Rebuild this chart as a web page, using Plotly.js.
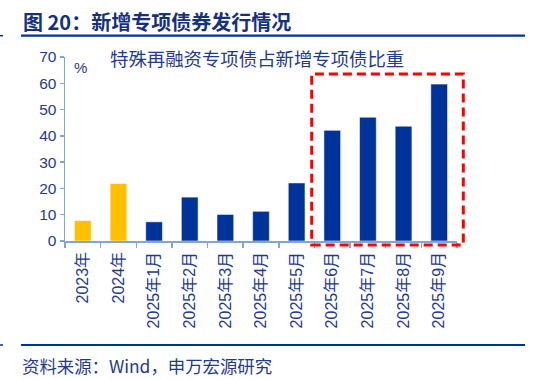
<!DOCTYPE html>
<html>
<head>
<meta charset="utf-8">
<script src="https://cdn.plot.ly/plotly-3.0.1.min.js"></script>
<style>html,body{margin:0;padding:0;background:#fff;}#chart{width:541px;height:379px;}</style>
</head>
<body>
<div id="chart"></div>
<script>
const categories = ["2023年","2024年","2025年1月","2025年2月","2025年3月","2025年4月","2025年5月","2025年6月","2025年7月","2025年8月","2025年9月"];
const shareValues = [7.8, 21.9, 7.3, 16.7, 10.1, 11.3, 22.1, 42.1, 47.1, 43.7, 59.7];
const barColors = ["#FFC000","#FFC000","#003399","#003399","#003399","#003399","#003399","#003399","#003399","#003399","#003399"];
const yTicks = [0,10,20,30,40,50,60,70];

const FONT = "'Liberation Sans', Arial, 'Noto Sans CJK SC', sans-serif";
const CJK = "'Noto Sans CJK SC', 'Liberation Sans', sans-serif";
const W = 541, H = 379, L = 65, R = 84, T = 57, B = 138;
const pw = W - L - R, ph = H - T - B;
const px = v => (v - L) / pw;
const py = v => (H - B - v) / ph;

const trace = {
  type: "bar",
  x: categories,
  y: shareValues,
  marker: {color: barColors, line: {color: "rgba(255,255,255,0.55)", width: 1}},
  hoverinfo: "x+y"
};

const layout = {
  width: W, height: H,
  margin: {l: L, r: R, t: T, b: B, pad: 0},
  paper_bgcolor: "#fff", plot_bgcolor: "#fff",
  showlegend: false,
  bargap: 0.53,
  font: {family: FONT, color: "#1F3A8F"},
  xaxis: {
    type: "category",
    range: [-0.5, categories.length - 0.5],
    showline: true, linecolor: "#7FA6D6", linewidth: 1.5,
    ticks: "outside", tickson: "boundaries", ticklen: 5, tickcolor: "#7FA6D6", tickwidth: 1.5,
    tickangle: -90, ticklabelstandoff: 3, tickfont: {size: 16, family: FONT, color: "#1F3A8F"},
    showgrid: false, zeroline: false, fixedrange: true
  },
  yaxis: {
    range: [0, 70], tickvals: yTicks,
    showline: true, linecolor: "#7FA6D6", linewidth: 1.5,
    ticks: "outside", ticklen: 4, tickcolor: "#7FA6D6", tickwidth: 1.5,
    tickfont: {size: 15.5, family: FONT, color: "#1F3A8F"},
    showgrid: false, zeroline: false, fixedrange: true
  },
  shapes: [
    {type: "line", xref: "paper", yref: "paper", x0: px(21), x1: px(525), y0: py(35.7), y1: py(35.7), line: {color: "#003399", width: 2.2}},
    {type: "line", xref: "paper", yref: "paper", x0: px(21), x1: px(525), y0: py(345), y1: py(345), line: {color: "#003399", width: 2.2}},
    {type: "line", xref: "paper", yref: "paper", x0: px(0), x1: px(3), y0: py(35.7), y1: py(35.7), line: {color: "#003399", width: 1.5}},
    {type: "line", xref: "paper", yref: "paper", x0: px(0), x1: px(3), y0: py(345), y1: py(345), line: {color: "#003399", width: 1.5}},
    {type: "rect", xref: "paper", yref: "paper", x0: px(311.7), x1: px(463.3), y0: py(245), y1: py(74), line: {color: "#FF0000", width: 3, dash: "9px,5px"}, fillcolor: "rgba(0,0,0,0)"}
  ],
  annotations: [
    {text: "<b>图 20：新增专项债券发行情况</b>", xref: "paper", yref: "paper", x: px(21), y: py(21), xanchor: "left", yanchor: "middle", showarrow: false, font: {size: 20, family: CJK, color: "#14307F"}},
    {text: "特殊再融资专项债占新增专项债比重", xref: "paper", yref: "paper", x: px(108), y: py(58), xanchor: "left", yanchor: "middle", showarrow: false, font: {size: 18.4, family: CJK, color: "#1F3A8F"}},
    {text: "%", xref: "paper", yref: "paper", x: px(80.5), y: py(67), xanchor: "center", yanchor: "middle", showarrow: false, font: {size: 15, family: FONT, color: "#1F3A8F"}},
    {text: "资料来源：Wind，申万宏源研究", xref: "paper", yref: "paper", x: px(20), y: py(365), xanchor: "left", yanchor: "middle", showarrow: false, font: {size: 17.4, family: CJK, color: "#1F3A8F"}}
  ]
};

Plotly.newPlot("chart", [trace], layout, {displayModeBar: false, staticPlot: true});
</script>
</body>
</html>
